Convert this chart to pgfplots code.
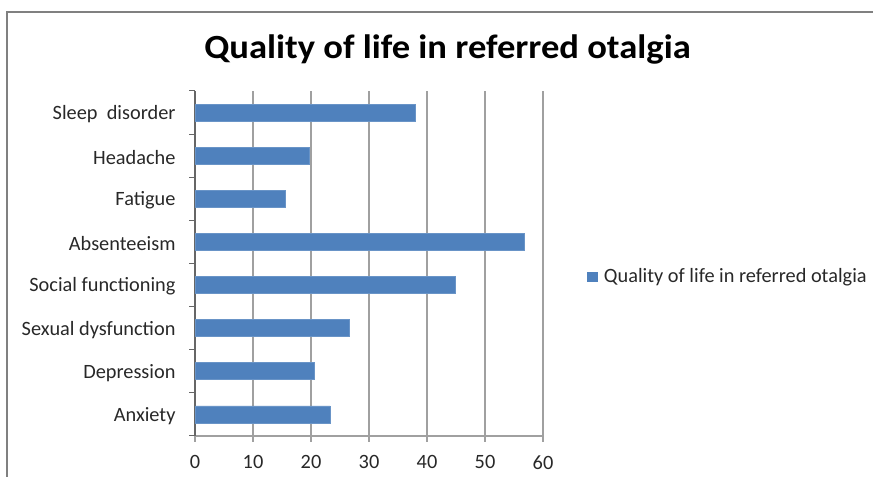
\documentclass[border=0pt]{standalone}
\usepackage{pgfplots}
\pgfplotsset{compat=1.18}
\usepackage{fontspec}
\setmainfont{Carlito}
\definecolor{barblue}{RGB}{79,129,189}
\definecolor{gridgray}{RGB}{160,160,160}
\definecolor{txt}{RGB}{40,40,40}
\begin{document}
\begin{tikzpicture}[x=1bp,y=1bp]
\useasboundingbox (0,0) rectangle (873,477);
\draw[gray, line width=1.2bp] (7,-5) -- (7,465) -- (873,465);
\node[font=\bfseries\fontsize{34}{40}\selectfont, anchor=base, inner sep=0pt] at (447.5,418.5) {\scalebox{1.08}[1]{Quality of life in referred otalgia}};
\begin{axis}[
  at={(195bp,41bp)}, anchor=south west,
  scale only axis, width=348bp, height=345bp,
  xmin=0, xmax=60, ymin=-0.5, ymax=7.5,
  xtick={0,10,...,60},
  ytick={0,...,7},
  yticklabels={Anxiety,Depression,Sexual dysfunction,Social functioning,Absenteeism,Fatigue,Headache,Sleep\ \ disorder},
  minor ytick={-0.5,0.5,...,7.5},
  axis x line*=bottom, axis y line*=left,
  axis line style={-},
  x axis line style={draw=gridgray, line width=1.2bp},
  y axis line style={draw=black!60, line width=1.2bp},
  tick align=outside,
  major tick length=6bp, minor tick length=6bp,
  major y tick style={draw=none},
  minor y tick style={draw=black!60, line width=1bp},
  major x tick style={draw=gridgray, line width=1.2bp},
  xmajorgrids,
  grid style={draw=gridgray, line width=1.2bp},
  /pgf/number format/assume math mode=true,
  tick label style={font=\fontsize{20.4}{24}\selectfont, text=txt},
  yticklabel style={xshift=-10bp, yshift=-1.5bp},
  xticklabel style={yshift=-10bp},
  legend style={at={(rel axis cs:1.1264,0.4623)}, anchor=west, draw=none, fill=none,
     font=\fontsize{20.4}{24}\selectfont, text=txt, inner sep=0pt},
  legend image code/.code={\fill[barblue] (0bp,-4.5bp) rectangle (10bp,4.5bp); \path (14bp,0bp);},
]
\addplot[xbar, bar width=17bp, fill=barblue, draw=barblue!85!white, line width=0.8bp]
  coordinates {(23.3,0) (20.6,1) (26.7,2) (44.9,3) (56.8,4) (15.6,5) (19.7,6) (38.0,7)};
\addlegendentry{Quality of life in referred otalgia}
\end{axis}
\end{tikzpicture}
\end{document}
